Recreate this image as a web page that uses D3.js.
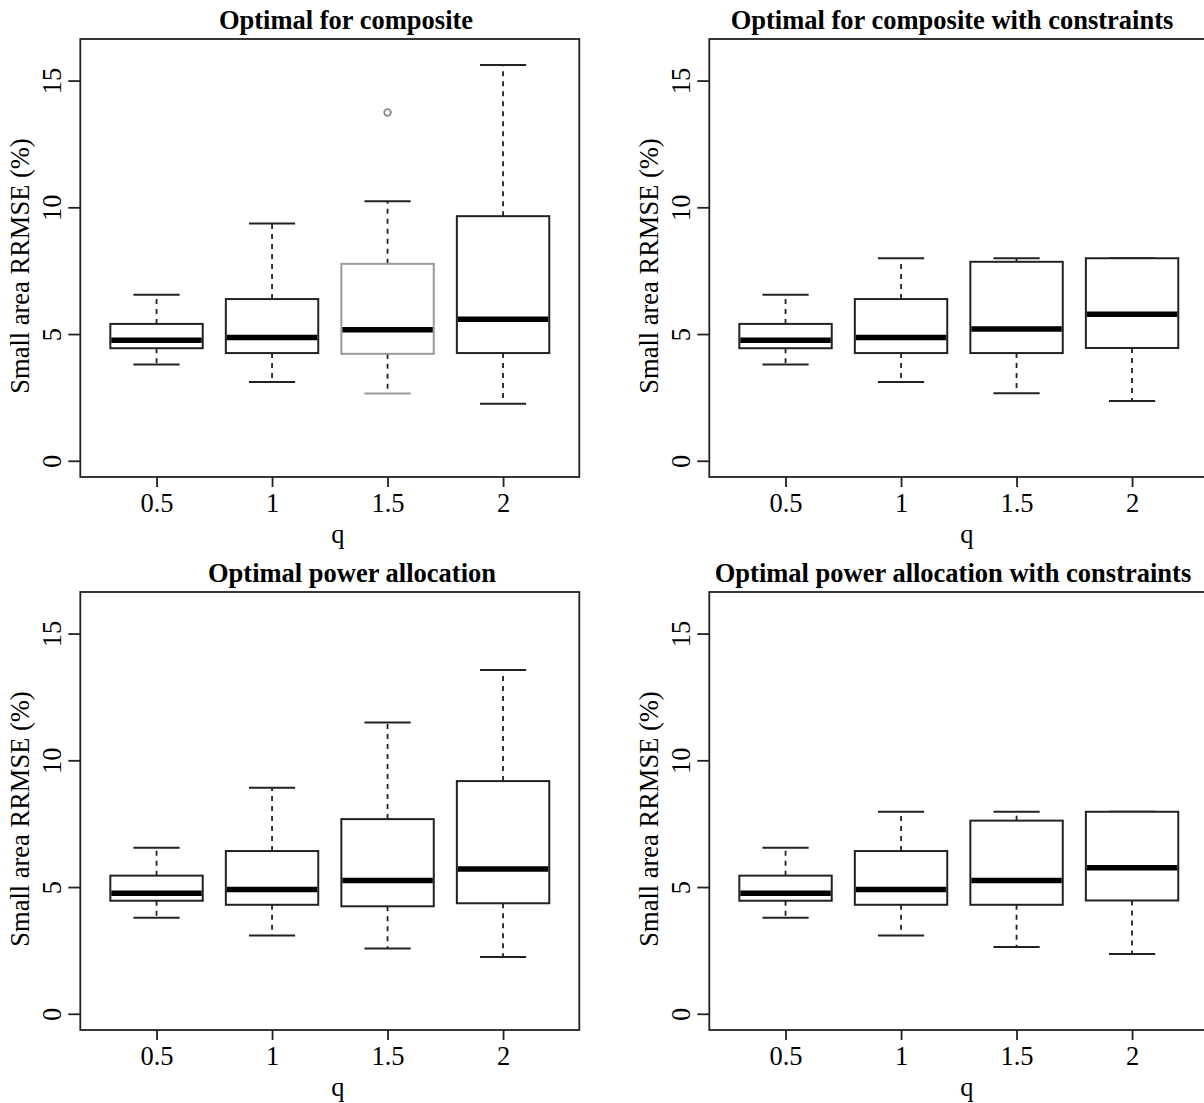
<!DOCTYPE html>
<html>
<head>
<meta charset="utf-8">
<script src="https://cdn.jsdelivr.net/npm/d3@7"></script>
<style>
  html, body { margin: 0; padding: 0; background: #fff; }
  svg { display: block; }
  text { font-family: "Liberation Serif", "DejaVu Serif", serif; fill: #000; }
</style>
</head>
<body>
<svg id="chart" width="1204" height="1103"></svg>
<script>
// ---------- data ----------
const qLabels = ["0.5", "1", "1.5", "2"];
const yTicks = [0, 5, 10, 15];
const panelTitles = [
  "Optimal for composite",
  "Optimal for composite with constraints",
  "Optimal power allocation",
  "Optimal power allocation with constraints"
];
const yLabel = "Small area RRMSE (%)";
const xLabel = "q";

// Optimal for composite
const compLower  = [3.80, 3.11, 2.65, 2.25];
const compQ1     = [4.44, 4.25, 4.22, 4.25];
const compMedian = [4.76, 4.86, 5.17, 5.58];
const compQ3     = [5.40, 6.38, 7.77, 9.65];
const compUpper  = [6.55, 9.36, 10.24, 15.61];
const compOutliers = [[], [], [13.74], []];

// Optimal for composite with constraints
const compConLower  = [3.80, 3.11, 2.66, 2.36];
const compConQ1     = [4.44, 4.25, 4.25, 4.45];
const compConMedian = [4.76, 4.86, 5.20, 5.78];
const compConQ3     = [5.40, 6.38, 7.85, 7.99];
const compConUpper  = [6.55, 7.99, 7.99, 7.99];

// Optimal power allocation
const powLower  = [3.79, 3.09, 2.58, 2.24];
const powQ1     = [4.46, 4.30, 4.24, 4.36];
const powMedian = [4.76, 4.90, 5.26, 5.71];
const powQ3     = [5.45, 6.42, 7.68, 9.18];
const powUpper  = [6.55, 8.92, 11.49, 13.56];

// Optimal power allocation with constraints
const powConLower  = [3.79, 3.09, 2.63, 2.36];
const powConQ1     = [4.46, 4.30, 4.30, 4.47];
const powConMedian = [4.76, 4.90, 5.26, 5.76];
const powConQ3     = [5.45, 6.42, 7.62, 7.97];
const powConUpper  = [6.55, 7.97, 7.97, 7.97];

// ---------- layout ----------
const svg = d3.select("#chart");
svg.append("rect").attr("width", 1204).attr("height", 1103).attr("fill", "#fff");

const colOffset = 629;
const rowOffset = 553;
const plotLeft = 80.3, plotRight = 579.3, plotTop = 39, plotBottom = 477;
const fontSize = 26.5;
const lineCol = "#222";

const panels = [
  { title: panelTitles[0], titleX: 346, lower: compLower, q1: compQ1, med: compMedian, q3: compQ3, upper: compUpper, out: compOutliers, grayBox: 2, ox: 0, oy: 0 },
  { title: panelTitles[1], titleX: 323, lower: compConLower, q1: compConQ1, med: compConMedian, q3: compConQ3, upper: compConUpper, out: [[],[],[],[]], grayBox: -1, ox: colOffset, oy: 0 },
  { title: panelTitles[2], titleX: 352, lower: powLower, q1: powQ1, med: powMedian, q3: powQ3, upper: powUpper, out: [[],[],[],[]], grayBox: -1, ox: 0, oy: rowOffset },
  { title: panelTitles[3], titleX: 324, lower: powConLower, q1: powConQ1, med: powConMedian, q3: powConQ3, upper: powConUpper, out: [[],[],[],[]], grayBox: -1, ox: colOffset, oy: rowOffset }
];

panels.forEach(p => {
  const g = svg.append("g").attr("transform", `translate(${p.ox},${p.oy})`);
  const x = d3.scaleLinear().domain([0.34, 4.66]).range([plotLeft, plotRight]);
  const y = d3.scaleLinear().domain([-0.64, 16.64]).range([plotBottom, plotTop]);
  const unit = x(1) - x(0);
  const boxW = 0.8 * unit;
  const stapleW = 0.4 * unit;
  const idx = qLabels.map((d, i) => i);

  const boxes = g.selectAll("g.box").data(idx).join("g").attr("class", "box");
  boxes.each(function(i) {
    const bg = d3.select(this);
    const cx = x(i + 1);
    const gray = (i === p.grayBox);
    const boxCol = gray ? "#9a9a9a" : lineCol;
    // whiskers (dashed)
    bg.append("line").attr("x1", cx).attr("x2", cx)
      .attr("y1", y(p.q3[i])).attr("y2", y(p.upper[i]))
      .attr("stroke", lineCol).attr("stroke-width", 1.8).attr("stroke-dasharray", "5,5");
    bg.append("line").attr("x1", cx).attr("x2", cx)
      .attr("y1", y(p.q1[i])).attr("y2", y(p.lower[i]))
      .attr("stroke", lineCol).attr("stroke-width", 1.8).attr("stroke-dasharray", "5,5");
    // staples
    bg.append("line").attr("x1", cx - stapleW / 2).attr("x2", cx + stapleW / 2)
      .attr("y1", y(p.upper[i])).attr("y2", y(p.upper[i]))
      .attr("stroke", lineCol).attr("stroke-width", 2);
    bg.append("line").attr("x1", cx - stapleW / 2).attr("x2", cx + stapleW / 2)
      .attr("y1", y(p.lower[i])).attr("y2", y(p.lower[i]))
      .attr("stroke", boxCol).attr("stroke-width", 2);
    // box
    bg.append("rect").attr("x", cx - boxW / 2).attr("width", boxW)
      .attr("y", y(p.q3[i])).attr("height", y(p.q1[i]) - y(p.q3[i]))
      .attr("fill", "#fff").attr("stroke", boxCol).attr("stroke-width", 2);
    // median
    bg.append("line").attr("x1", cx - boxW / 2 + 1).attr("x2", cx + boxW / 2 - 1)
      .attr("y1", y(p.med[i])).attr("y2", y(p.med[i]))
      .attr("stroke", "#000").attr("stroke-width", 5.5);
    // outliers
    p.out[i].forEach(v => {
      bg.append("circle").attr("cx", cx).attr("cy", y(v)).attr("r", 3.3)
        .attr("fill", "none").attr("stroke", "#8a8a8a").attr("stroke-width", 1.8);
    });
  });

  // plot frame
  g.append("rect").attr("x", plotLeft).attr("y", plotTop)
    .attr("width", plotRight - plotLeft).attr("height", plotBottom - plotTop)
    .attr("fill", "none").attr("stroke", lineCol).attr("stroke-width", 1.8);

  // x axis
  const xAxis = d3.axisBottom(x).tickValues([1, 2, 3, 4])
    .tickFormat((d, i) => qLabels[i]).tickSize(10).tickSizeOuter(0).tickPadding(0);
  const xa = g.append("g").attr("transform", `translate(0,${plotBottom})`).call(xAxis);
  xa.select(".domain").remove();
  xa.selectAll(".tick line").attr("stroke", lineCol).attr("stroke-width", 1.8);
  xa.selectAll(".tick text").attr("font-family", "Liberation Serif").attr("font-size", fontSize)
    .attr("fill", "#000").attr("y", 35).attr("dy", null);

  // y axis
  const yAxis = d3.axisLeft(y).tickValues(yTicks).tickSize(12).tickSizeOuter(0).tickFormat(d3.format("d"));
  const ya = g.append("g").attr("transform", `translate(${plotLeft},0)`).call(yAxis);
  ya.select(".domain").remove();
  ya.selectAll(".tick line").attr("stroke", lineCol).attr("stroke-width", 1.8);
  ya.selectAll(".tick text")
    .attr("font-family", "Liberation Serif").attr("font-size", fontSize).attr("fill", "#000")
    .attr("x", null).attr("dy", null)
    .attr("text-anchor", "middle")
    .attr("transform", "translate(-19,0) rotate(-90)");

  // title
  g.append("text").attr("x", p.titleX).attr("y", 28.5)
    .attr("text-anchor", "middle").attr("font-weight", "bold").attr("font-size", fontSize)
    .text(p.title);
  // x label
  g.append("text").attr("x", (plotLeft + plotRight) / 2 + 8).attr("y", 543)
    .attr("text-anchor", "middle").attr("font-size", fontSize).text(xLabel);
  // y label
  g.append("text").attr("transform", `translate(29,${(plotTop + plotBottom) / 2 + 8}) rotate(-90)`)
    .attr("text-anchor", "middle").attr("font-size", fontSize).text(yLabel);
});
</script>
</body>
</html>
